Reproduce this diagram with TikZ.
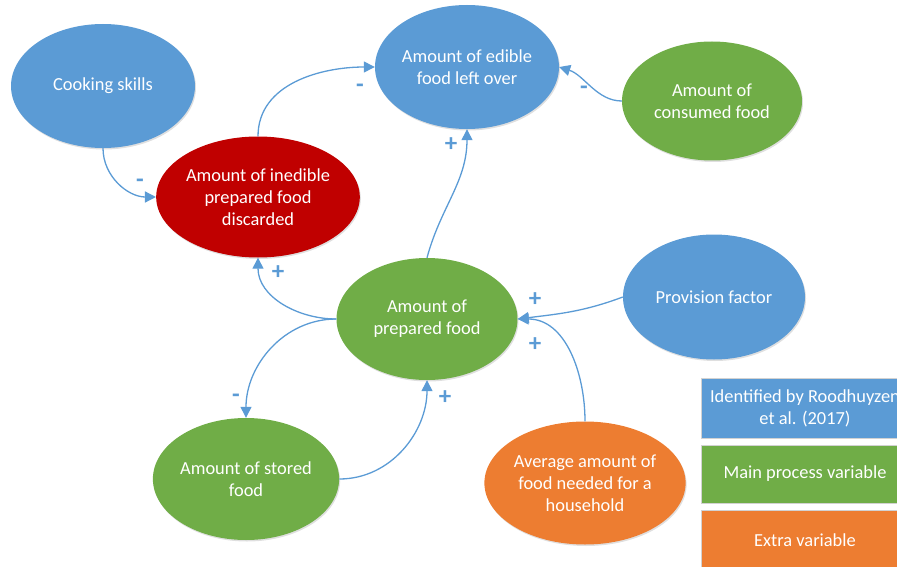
\documentclass[tikz,border=0pt]{standalone}
\usepackage{fontspec}
\setmainfont{Carlito}
\usetikzlibrary{shapes.geometric,arrows.meta,shadows}
\definecolor{cblue}{HTML}{5B9BD5}
\definecolor{cgreen}{HTML}{70AD47}
\definecolor{cred}{HTML}{C00000}
\definecolor{corange}{HTML}{ED7D31}
\begin{document}
\begin{tikzpicture}[x=1pt,y=1pt,
  var/.style={ellipse, inner sep=0pt, text=white, align=center,
    font=\fontsize{18.4}{22}\selectfont,
    drop shadow={opacity=0.25, shadow xshift=1pt, shadow yshift=-1.5pt}},
  link/.style={draw=cblue, line width=1.3pt,
    -{Triangle[length=11pt,width=11pt]}},
  sign/.style={text=cblue, font=\fontsize{25}{25}\selectfont\bfseries, inner sep=0pt},
  legend/.style={rectangle, draw=gray!35, line width=0.8pt, text=white, align=center,
    minimum width=208pt, inner sep=0pt,
    font=\fontsize{18.4}{22}\selectfont}]
\useasboundingbox (0,0) rectangle (897,-567);
\clip (0,0) rectangle (897,-567);

% variables
\node[var, fill=cblue, minimum width=184pt, minimum height=124pt] (cook) at (103,-86) {Cooking skills};
\node[var, fill=cblue, minimum width=182pt, minimum height=124pt] (edible) at (467,-67) {Amount of edible\\food left over};
\node[var, fill=cgreen, minimum width=180pt, minimum height=119pt] (cons) at (712,-101) {Amount of\\consumed food};
\node[var, fill=cred, minimum width=182pt, minimum height=121pt] (disc) at (258,-197) {Amount of inedible\\prepared food\\discarded};
\node[var, fill=cgreen, minimum width=181pt, minimum height=122pt] (prep) at (427,-319) {Amount of\\prepared food};
\node[var, fill=cblue, minimum width=182pt, minimum height=125pt] (prov) at (714,-297) {Provision factor};
\node[var, fill=cgreen, minimum width=182pt, minimum height=122pt] (stored) at (246,-479) {Amount of stored\\food};
\node[var, fill=corange, minimum width=185pt, minimum height=123pt] (avg) at (585,-483) {Average amount of\\food needed for a\\household};

% causal links
\draw[link] (cook.south) to[out=-90, in=180] (disc.west);
\draw[link] (disc.north) to[out=90, in=180] (edible.west);
\draw[link] (cons.west) .. controls +(-25,0) and +(25,-8) .. (edible.east);
\draw[link] (prep.north) to[out=75, in=-90] (edible.south);
\draw[link] (prep.west) to[out=180, in=-90] (disc.south);
\draw[link] (prep.west) to[out=180, in=90] (stored.north);
\draw[link] (stored.east) to[out=0, in=-90] (prep.south);
\draw[link] (prov.west) .. controls +(-40,-15) and +(40,5) .. (prep.east);
\draw[link] (avg.north) to[out=90, in=0] (prep.east);

% polarities
\node[sign] (s1) at (140,-183) {-};
\node[sign] (s2) at (360,-88) {-};
\node[sign] (s3) at (584,-90) {-};
\node[sign] (s4) at (451,-145) {+};
\node[sign] (s5) at (278,-273) {+};
\node[sign] (s6) at (236,-398) {-};
\node[sign] (s7) at (445,-398) {+};
\node[sign] (s8) at (535,-300) {+};
\node[sign] (s9) at (535,-345) {+};

% legend
\node[legend, fill=cblue, minimum height=60pt] (l1) at (805,-408) {Identified by Roodhuyzen\\et al. (2017)};
\node[legend, fill=cgreen, minimum height=58pt] (l2) at (805,-474) {Main process variable};
\node[legend, fill=corange, minimum height=60pt] (l3) at (805,-540) {Extra variable};
\end{tikzpicture}
\end{document}
